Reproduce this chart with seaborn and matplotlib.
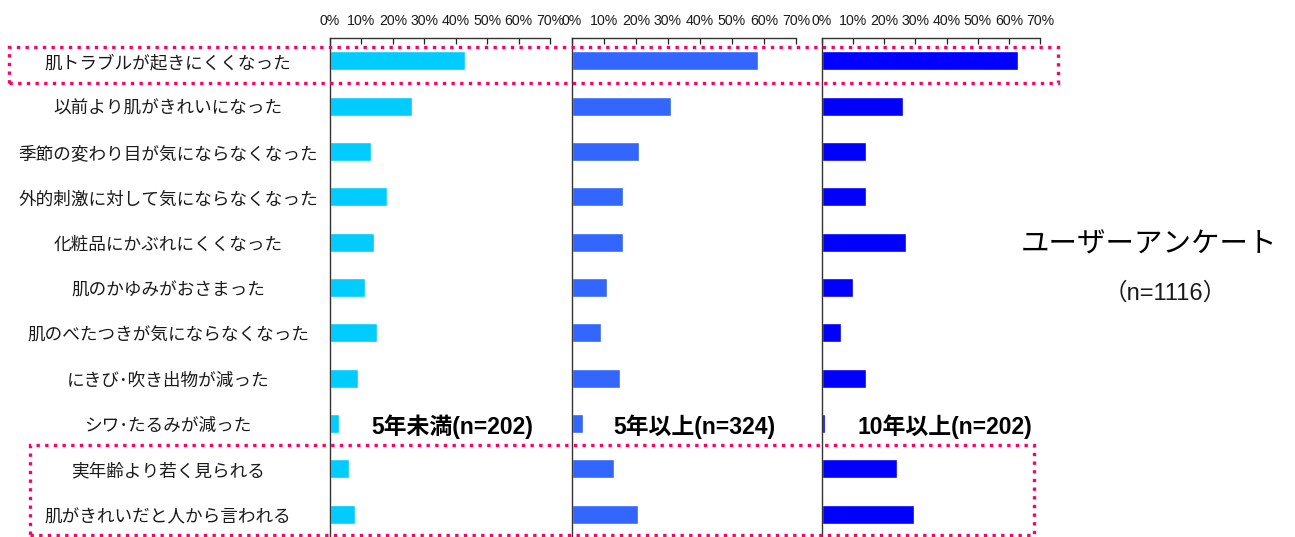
import pandas as pd
import seaborn as sns
import matplotlib.pyplot as plt
import matplotlib.patches as mpatches
import matplotlib.transforms as mtransforms

# Datos de la encuesta (porcentaje de respuestas)
categories = [
    "肌トラブルが起きにくくなった",
    "以前より肌がきれいになった",
    "季節の変わり目が気にならなくなった",
    "外的刺激に対して気にならなくなった",
    "化粧品にかぶれにくくなった",
    "肌のかゆみがおさまった",
    "肌のべたつきが気にならなくなった",
    "にきび･吹き出物が減った",
    "シワ･たるみが減った",
    "実年齢より若く見られる",
    "肌がきれいだと人から言われる",
]
under5 = [43, 26, 13, 18, 14, 11, 15, 9, 3, 6, 8]
over5 = [58, 31, 21, 16, 16, 11, 9, 15, 3.5, 13, 20.5]
over10 = [63, 26, 14, 14, 27, 10, 6, 14, 1, 24, 29.5]

group_names = ["5年未満(n=202)", "5年以上(n=324)", "10年以上(n=202)"]
group_colors = ["#00CCFF", "#3366FF", "#0000FF"]
xticks = [0, 10, 20, 30, 40, 50, 60, 70]
xtick_labels = [f"{t}%" for t in xticks]

sns.set_style("white")
plt.rcParams["font.family"] = ["Liberation Sans", "Noto Sans CJK JP"]

W, H = 1295, 537
fig = plt.figure(figsize=(W / 100, H / 100), dpi=100)

# posiciones de los paneles en píxeles (izquierda, ancho)
panels = [(330, 220), (572, 224), (822, 218)]
top_px = 38
label_x = [452, 694, 945]

axes = []
for (left, width), vals, color, name, lx in zip(panels, [under5, over5, over10],
                                                 group_colors, group_names, label_x):
    ax = fig.add_axes([left / W, 0, width / W, (H - top_px) / H])
    df = pd.DataFrame({"cat": categories, "val": vals})
    sns.barplot(data=df, x="val", y="cat", orient="h", color=color,
                saturation=1, width=0.42, ax=ax)
    ax.set_xlim(0, 70)
    ax.set_ylim(len(categories) - 0.5, -0.5)
    ax.xaxis.tick_top()
    ax.set_xticks(xticks)
    ax.set_xticklabels(xtick_labels, fontsize=10.2, color="#1a1a1a")
    ax.tick_params(axis="x", direction="in", length=4.5, width=0.9, pad=7,
                   color="#222222")
    ax.set_yticks([i + 0.5 for i in range(len(categories) - 1)], minor=True)
    ax.tick_params(axis="y", which="major", length=0, labelleft=False)
    ax.tick_params(axis="y", which="minor", direction="in", length=4.5,
                   width=0.9, color="#333333")
    ax.set_xlabel("")
    ax.set_ylabel("")
    for s in ["right", "bottom"]:
        ax.spines[s].set_visible(False)
    for s in ["top", "left"]:
        ax.spines[s].set_color("#333333")
        ax.spines[s].set_linewidth(1.0)
    fig.text(lx / W, 1 - 427 / H, name, ha="center", va="center",
             fontsize=16.5, fontweight="bold", color="black")
    axes.append(ax)

# etiquetas de categorías centradas a la izquierda
trans = mtransforms.blended_transform_factory(fig.transFigure, axes[0].transData)
for i, c in enumerate(categories):
    axes[0].text(168 / W, i + 0.07, c, transform=trans, ha="center", va="center",
                 fontsize=12.7, color="#1a1a1a", clip_on=False)

# título a la derecha
fig.text(1149 / W, 1 - 245 / H, "ユーザーアンケート", ha="center", va="center",
         fontsize=20.5, color="black")
fig.text(1165 / W, 1 - 293 / H, "（n=1116）", ha="center", va="center",
         fontsize=17, color="#1a1a1a")

# recuadros punteados
pink = "#FF0066"
for x0, y0, x1, y1 in [(9, 47, 1058, 83), (30, 445, 1034, 535)]:
    rect = mpatches.Rectangle((x0 / W, 1 - y1 / H), (x1 - x0) / W, (y1 - y0) / H,
                              transform=fig.transFigure, fill=False,
                              edgecolor=pink, linewidth=2.4,
                              linestyle=(0, (1, 1.6)), clip_on=False, zorder=10)
    fig.add_artist(rect)

plt.savefig("out.png", dpi=100)
plt.close()
